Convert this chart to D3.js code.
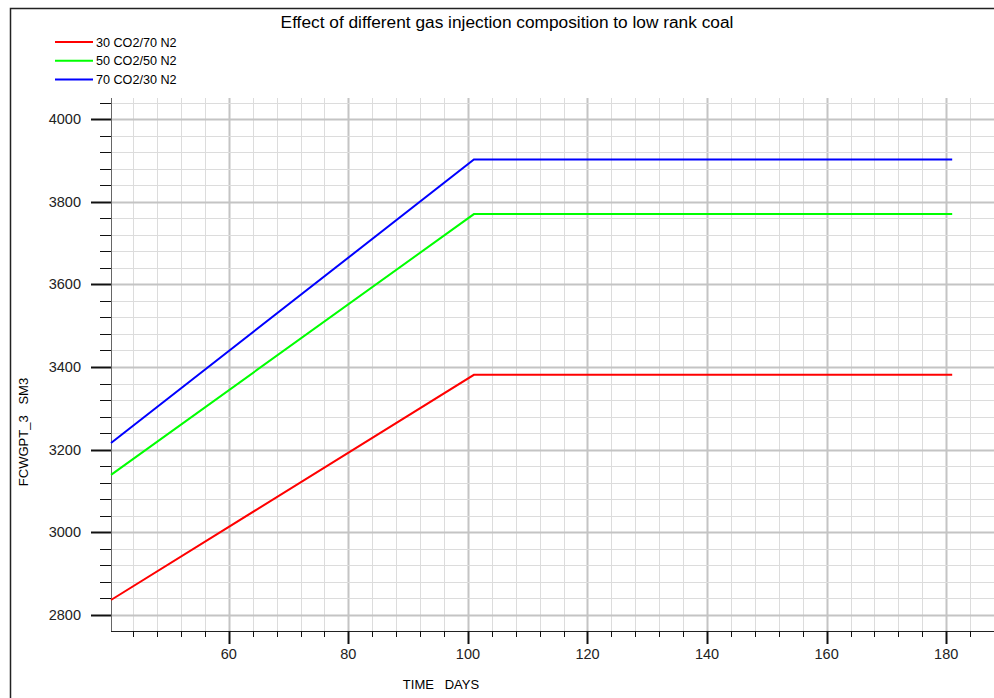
<!DOCTYPE html>
<html lang="en">
<head>
  <meta charset="UTF-8">
  <title>Effect of different gas injection composition to low rank coal</title>
  <script src="https://d3js.org/d3.v7.min.js"></script>
  <style>
    body {
      margin: 0;
      background: #fff;
      font-family: "Liberation Sans", Arial, sans-serif;
    }

    .grid-minor {
      stroke: #dcdcdc;
      stroke-width: 1px;
    }

    .grid-major {
      stroke: #c4c4c4;
      stroke-width: 2px;
    }

    .series {
      fill: none;
      stroke-width: 2px;
    }

    .tick-label {
      font-size: 14.5px;
      fill: #222;
    }
  </style>
</head>
<body>
  <div id="chart"></div>

  <script>
    // data
    const seriesNames = ["30 CO2/70 N2", "50 CO2/50 N2", "70 CO2/30 N2"];
    const seriesColors = ["#ff0000", "#00ff00", "#0000ff"];
    const days = [40.3, 101, 181];
    const co2_30 = [2836, 3381, 3381];
    const co2_50 = [3139, 3770, 3770];
    const co2_70 = [3216, 3902, 3902];
    const allSeries = [co2_30, co2_50, co2_70];

    const xMajorTicks = [60, 80, 100, 120, 140, 160, 180];
    const yMajorTicks = [2800, 3000, 3200, 3400, 3600, 3800, 4000];

    const width = 994;
    const height = 698;
    const plot = { left: 111, top: 98, bottom: 631, right: 1006 };

    const svg = d3.select("#chart")
      .append("svg")
      .attr("width", width)
      .attr("height", height);

    const x = d3.scaleLinear()
      .domain([40.3, 190])
      .range([plot.left, plot.right]);

    const y = d3.scaleLinear()
      .domain([2761, 4051])
      .range([plot.bottom, plot.top]);

    // outer frame (left + top)
    svg.append("path")
      .attr("d", `M10.5,${height} V8.5 H${width}`)
      .attr("fill", "none")
      .attr("stroke", "#222")
      .attr("stroke-width", 1.5);

    // grid
    const xMinor = d3.range(44, 190, 4);
    const yMinor = d3.range(2800, 4041, 40);

    svg.append("g")
      .selectAll("line")
      .data(xMinor)
      .enter()
      .append("line")
      .attr("class", d => d % 20 === 0 ? "grid-major" : "grid-minor")
      .attr("x1", d => Math.round(x(d)) + 0.5)
      .attr("x2", d => Math.round(x(d)) + 0.5)
      .attr("y1", plot.top)
      .attr("y2", plot.bottom);

    svg.append("g")
      .selectAll("line")
      .data(yMinor)
      .enter()
      .append("line")
      .attr("class", d => d % 200 === 0 ? "grid-major" : "grid-minor")
      .attr("x1", plot.left)
      .attr("x2", width)
      .attr("y1", d => Math.round(y(d)) + 0.5)
      .attr("y2", d => Math.round(y(d)) + 0.5);

    // axes lines
    svg.append("line")
      .attr("x1", plot.left + 0.5).attr("x2", plot.left + 0.5)
      .attr("y1", plot.top).attr("y2", plot.bottom + 0.5)
      .attr("stroke", "#666");
    svg.append("line")
      .attr("x1", plot.left).attr("x2", width)
      .attr("y1", plot.bottom + 0.5).attr("y2", plot.bottom + 0.5)
      .attr("stroke", "#222");

    // y ticks
    svg.append("g")
      .selectAll("line")
      .data(yMinor)
      .enter()
      .append("line")
      .attr("x1", d => d % 200 === 0 ? 91 : 100)
      .attr("x2", plot.left)
      .attr("y1", d => Math.round(y(d)) + 0.5)
      .attr("y2", d => Math.round(y(d)) + 0.5)
      .attr("stroke", "#111")
      .attr("stroke-width", d => d % 200 === 0 ? 2 : 1);

    svg.append("g")
      .selectAll("text")
      .data(yMajorTicks)
      .enter()
      .append("text")
      .attr("class", "tick-label")
      .attr("x", 81)
      .attr("y", d => y(d) + 5)
      .attr("text-anchor", "end")
      .text(d => d);

    // x ticks
    svg.append("g")
      .selectAll("line")
      .data(xMinor)
      .enter()
      .append("line")
      .attr("x1", d => Math.round(x(d)) + 0.5)
      .attr("x2", d => Math.round(x(d)) + 0.5)
      .attr("y1", plot.bottom)
      .attr("y2", d => d % 20 === 0 ? 644 : 637)
      .attr("stroke", "#111")
      .attr("stroke-width", d => d % 20 === 0 ? 2 : 1);

    svg.append("g")
      .selectAll("text")
      .data(xMajorTicks)
      .enter()
      .append("text")
      .attr("class", "tick-label")
      .attr("x", d => x(d))
      .attr("y", 659)
      .attr("text-anchor", "middle")
      .text(d => d);

    // series
    const line = d3.line()
      .x((d, i) => x(days[i]))
      .y(d => y(d));

    svg.append("g")
      .selectAll("path")
      .data(allSeries)
      .enter()
      .append("path")
      .attr("class", "series")
      .attr("stroke", (d, i) => seriesColors[i])
      .attr("d", line);

    // title
    svg.append("text")
      .attr("x", 507)
      .attr("y", 28)
      .attr("text-anchor", "middle")
      .style("font-size", "17.3px")
      .text("Effect of different gas injection composition to low rank coal");

    // legend
    const legend = svg.append("g")
      .selectAll("g")
      .data(seriesNames)
      .enter()
      .append("g")
      .attr("transform", (d, i) => `translate(55,${42 + i * 18.7})`);

    legend.append("line")
      .attr("x1", 0).attr("x2", 38)
      .attr("stroke", (d, i) => seriesColors[i])
      .attr("stroke-width", 2);

    legend.append("text")
      .attr("x", 41)
      .attr("y", 4.5)
      .style("font-size", "12.6px")
      .text(d => d);

    // axis titles
    svg.append("text")
      .attr("transform", "translate(28,432) rotate(-90)")
      .attr("text-anchor", "middle")
      .style("font-size", "13px")
      .attr("xml:space", "preserve")
      .text("FCWGPT_3   SM3");

    svg.append("text")
      .attr("x", 441)
      .attr("y", 689)
      .attr("text-anchor", "middle")
      .style("font-size", "13px")
      .attr("xml:space", "preserve")
      .text("TIME   DAYS");
  </script>
</body>
</html>
